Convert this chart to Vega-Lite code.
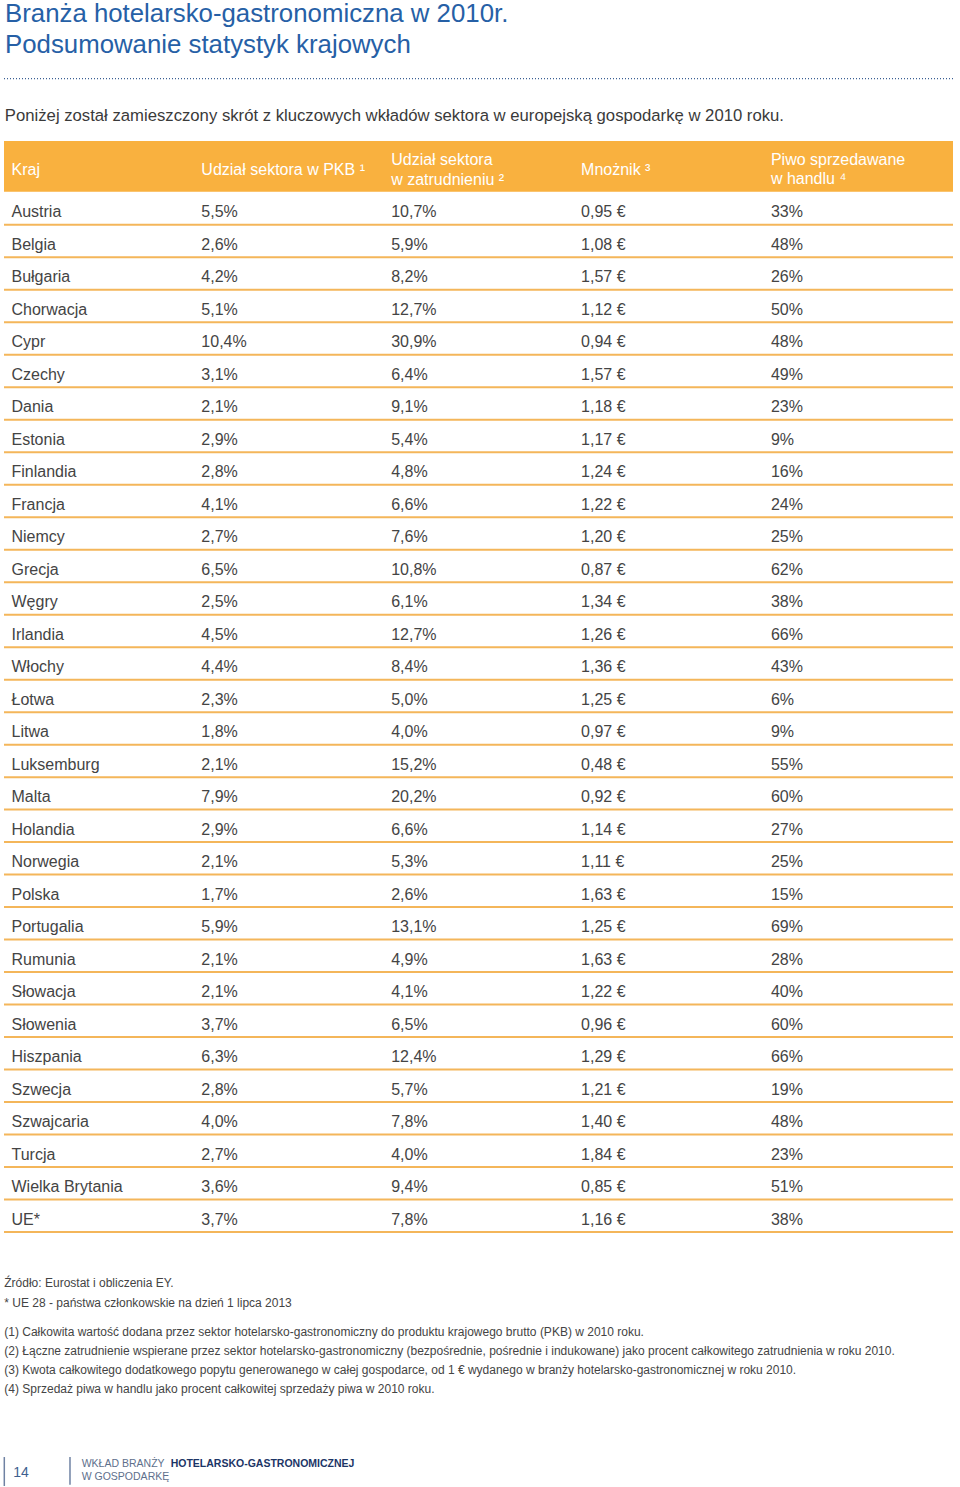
{
  "$schema": "https://vega.github.io/schema/vega-lite/v6.json",
  "width": 960,
  "height": 1487,
  "padding": 0,
  "autosize": {"type": "fit", "contains": "padding"},
  "background": "#ffffff",
  "config": {
    "view": {"stroke": null},
    "font": "Liberation Sans",
    "text": {"font": "Liberation Sans", "align": "left", "baseline": "alphabetic"},
    "locale": {"number": {"decimal": ",", "thousands": " ", "grouping": [3], "currency": ["", " €"]}}
  },
  "datasets": {
    "kraje": [
      {"kraj": "Austria", "pkb": 0.055, "zatr": 0.107, "mnoznik": 0.95, "piwo": 0.33},
      {"kraj": "Belgia", "pkb": 0.026, "zatr": 0.059, "mnoznik": 1.08, "piwo": 0.48},
      {"kraj": "Bułgaria", "pkb": 0.042, "zatr": 0.082, "mnoznik": 1.57, "piwo": 0.26},
      {"kraj": "Chorwacja", "pkb": 0.051, "zatr": 0.127, "mnoznik": 1.12, "piwo": 0.50},
      {"kraj": "Cypr", "pkb": 0.104, "zatr": 0.309, "mnoznik": 0.94, "piwo": 0.48},
      {"kraj": "Czechy", "pkb": 0.031, "zatr": 0.064, "mnoznik": 1.57, "piwo": 0.49},
      {"kraj": "Dania", "pkb": 0.021, "zatr": 0.091, "mnoznik": 1.18, "piwo": 0.23},
      {"kraj": "Estonia", "pkb": 0.029, "zatr": 0.054, "mnoznik": 1.17, "piwo": 0.09},
      {"kraj": "Finlandia", "pkb": 0.028, "zatr": 0.048, "mnoznik": 1.24, "piwo": 0.16},
      {"kraj": "Francja", "pkb": 0.041, "zatr": 0.066, "mnoznik": 1.22, "piwo": 0.24},
      {"kraj": "Niemcy", "pkb": 0.027, "zatr": 0.076, "mnoznik": 1.20, "piwo": 0.25},
      {"kraj": "Grecja", "pkb": 0.065, "zatr": 0.108, "mnoznik": 0.87, "piwo": 0.62},
      {"kraj": "Węgry", "pkb": 0.025, "zatr": 0.061, "mnoznik": 1.34, "piwo": 0.38},
      {"kraj": "Irlandia", "pkb": 0.045, "zatr": 0.127, "mnoznik": 1.26, "piwo": 0.66},
      {"kraj": "Włochy", "pkb": 0.044, "zatr": 0.084, "mnoznik": 1.36, "piwo": 0.43},
      {"kraj": "Łotwa", "pkb": 0.023, "zatr": 0.050, "mnoznik": 1.25, "piwo": 0.06},
      {"kraj": "Litwa", "pkb": 0.018, "zatr": 0.040, "mnoznik": 0.97, "piwo": 0.09},
      {"kraj": "Luksemburg", "pkb": 0.021, "zatr": 0.152, "mnoznik": 0.48, "piwo": 0.55},
      {"kraj": "Malta", "pkb": 0.079, "zatr": 0.202, "mnoznik": 0.92, "piwo": 0.60},
      {"kraj": "Holandia", "pkb": 0.029, "zatr": 0.066, "mnoznik": 1.14, "piwo": 0.27},
      {"kraj": "Norwegia", "pkb": 0.021, "zatr": 0.053, "mnoznik": 1.11, "piwo": 0.25},
      {"kraj": "Polska", "pkb": 0.017, "zatr": 0.026, "mnoznik": 1.63, "piwo": 0.15},
      {"kraj": "Portugalia", "pkb": 0.059, "zatr": 0.131, "mnoznik": 1.25, "piwo": 0.69},
      {"kraj": "Rumunia", "pkb": 0.021, "zatr": 0.049, "mnoznik": 1.63, "piwo": 0.28},
      {"kraj": "Słowacja", "pkb": 0.021, "zatr": 0.041, "mnoznik": 1.22, "piwo": 0.40},
      {"kraj": "Słowenia", "pkb": 0.037, "zatr": 0.065, "mnoznik": 0.96, "piwo": 0.60},
      {"kraj": "Hiszpania", "pkb": 0.063, "zatr": 0.124, "mnoznik": 1.29, "piwo": 0.66},
      {"kraj": "Szwecja", "pkb": 0.028, "zatr": 0.057, "mnoznik": 1.21, "piwo": 0.19},
      {"kraj": "Szwajcaria", "pkb": 0.040, "zatr": 0.078, "mnoznik": 1.40, "piwo": 0.48},
      {"kraj": "Turcja", "pkb": 0.027, "zatr": 0.040, "mnoznik": 1.84, "piwo": 0.23},
      {"kraj": "Wielka Brytania", "pkb": 0.036, "zatr": 0.094, "mnoznik": 0.85, "piwo": 0.51},
      {"kraj": "UE*", "pkb": 0.037, "zatr": 0.078, "mnoznik": 1.16, "piwo": 0.38}
    ]
  },
  "encoding": {
    "x": {"type": "quantitative", "scale": {"domain": [-0.06057, 4.99605], "nice": false, "zero": false}, "axis": null},
    "y": {"type": "quantitative", "scale": {"domain": [-5.6574, 40.068], "nice": false, "zero": false, "reverse": true}, "axis": null}
  },
  "layer": [
    {
      "data": {"values": [{}]},
      "layer": [
        {
          "mark": {"type": "text", "fontSize": 25.8, "color": "#2660A6", "lineHeight": 31.5,
                   "text": ["Branża hotelarsko-gastronomiczna w 2010r.", "Podsumowanie statystyk krajowych"]},
          "encoding": {"x": {"datum": -0.0342}, "y": {"datum": -5.025}}
        },
        {
          "mark": {"type": "rule", "color": "#3B5F93", "strokeWidth": 1.4, "strokeDash": [1, 2]},
          "encoding": {"x": {"datum": -0.0395}, "x2": {"datum": 4.9592}, "y": {"datum": -3.268}}
        },
        {
          "mark": {"type": "text", "fontSize": 16.7, "color": "#3A3A3A",
                   "text": "Poniżej został zamieszczony skrót z kluczowych wkładów sektora w europejską gospodarkę w 2010 roku."},
          "encoding": {"x": {"datum": -0.035}, "y": {"datum": -1.952}}
        },
        {
          "mark": {"type": "rect", "color": "#F9B13F"},
          "encoding": {"x": {"datum": -0.0395}, "x2": {"datum": 4.9592}, "y": {"datum": -1.3524}, "y2": {"datum": 0.2159}}
        },
        {
          "mark": {"type": "text", "fontSize": 16, "color": "#ffffff", "text": "Kraj"},
          "encoding": {"x": {"datum": 0}, "y": {"datum": -0.29}}
        },
        {
          "mark": {"type": "text", "fontSize": 16, "color": "#ffffff", "text": "Udział sektora w PKB ¹"},
          "encoding": {"x": {"datum": 1}, "y": {"datum": -0.29}}
        },
        {
          "mark": {"type": "text", "fontSize": 16, "color": "#ffffff", "lineHeight": 19.5, "text": ["Udział sektora", "w zatrudnieniu ²"]},
          "encoding": {"x": {"datum": 2}, "y": {"datum": -0.6}}
        },
        {
          "mark": {"type": "text", "fontSize": 16, "color": "#ffffff", "text": "Mnożnik ³"},
          "encoding": {"x": {"datum": 3}, "y": {"datum": -0.29}}
        },
        {
          "mark": {"type": "text", "fontSize": 16, "color": "#ffffff", "lineHeight": 19.5, "text": ["Piwo sprzedawane", "w handlu ⁴"]},
          "encoding": {"x": {"datum": 4}, "y": {"datum": -0.62}}
        },
        {
          "mark": {"type": "text", "fontSize": 12, "color": "#444444", "lineHeight": 19.5,
                   "text": ["Źródło: Eurostat i obliczenia EY.", "* UE 28 - państwa członkowskie na dzień 1 lipca 2013"]},
          "encoding": {"x": {"datum": -0.038}, "y": {"datum": 33.918}}
        },
        {
          "mark": {"type": "text", "fontSize": 12, "color": "#444444", "lineHeight": 19,
                   "text": [
                     "(1) Całkowita wartość dodana przez sektor hotelarsko-gastronomiczny do produktu krajowego brutto (PKB) w 2010 roku.",
                     "(2) Łączne zatrudnienie wspierane przez sektor hotelarsko-gastronomiczny (bezpośrednie, pośrednie i indukowane) jako procent całkowitego zatrudnienia w roku 2010.",
                     "(3) Kwota całkowitego dodatkowego popytu generowanego w całej gospodarce, od 1 € wydanego w branży hotelarsko-gastronomicznej w roku 2010.",
                     "(4) Sprzedaż piwa w handlu jako procent całkowitej sprzedaży piwa w 2010 roku."
                   ]},
          "encoding": {"x": {"datum": -0.038}, "y": {"datum": 35.41}}
        },
        {
          "mark": {"type": "rule", "color": "#6F82A3", "strokeWidth": 1.5},
          "encoding": {"x": {"datum": -0.0379}, "y": {"datum": 39.146}, "y2": {"datum": 40.037}}
        },
        {
          "mark": {"type": "rule", "color": "#6F82A3", "strokeWidth": 1.5},
          "encoding": {"x": {"datum": 0.3081}, "y": {"datum": 39.146}, "y2": {"datum": 40.0}}
        },
        {
          "mark": {"type": "text", "fontSize": 14, "color": "#3E5F8F", "text": "14"},
          "encoding": {"x": {"datum": 0.0095}, "y": {"datum": 39.752}}
        },
        {
          "mark": {"type": "text", "fontSize": 10.5, "color": "#5E6F8C", "lineHeight": 12.8, "text": ["WKŁAD BRANŻY", "W GOSPODARKĘ"]},
          "encoding": {"x": {"datum": 0.3698}, "y": {"datum": 39.462}}
        },
        {
          "mark": {"type": "text", "fontSize": 10.5, "fontWeight": "bold", "color": "#1C3566", "text": "HOTELARSKO-GASTRONOMICZNEJ"},
          "encoding": {"x": {"datum": 0.8386}, "y": {"datum": 39.462}}
        }
      ]
    },
    {
      "data": {"name": "kraje"},
      "transform": [{"window": [{"op": "row_number", "as": "r"}]}],
      "layer": [
        {
          "mark": {"type": "rule", "color": "#F4B65A", "strokeWidth": 2, "yOffset": 7.3, "y2Offset": 7.3},
          "encoding": {"x": {"datum": -0.0395}, "x2": {"datum": 4.9592}, "y": {"field": "r"}}
        },
        {
          "mark": {"type": "text", "fontSize": 16, "color": "#444444"},
          "encoding": {"x": {"datum": 0}, "y": {"field": "r"}, "text": {"field": "kraj", "type": "nominal"}}
        },
        {
          "mark": {"type": "text", "fontSize": 16, "color": "#444444"},
          "encoding": {"x": {"datum": 1}, "y": {"field": "r"}, "text": {"field": "pkb", "type": "quantitative", "format": ".1%"}}
        },
        {
          "mark": {"type": "text", "fontSize": 16, "color": "#444444"},
          "encoding": {"x": {"datum": 2}, "y": {"field": "r"}, "text": {"field": "zatr", "type": "quantitative", "format": ".1%"}}
        },
        {
          "mark": {"type": "text", "fontSize": 16, "color": "#444444"},
          "encoding": {"x": {"datum": 3}, "y": {"field": "r"}, "text": {"field": "mnoznik", "type": "quantitative", "format": "$.2f"}}
        },
        {
          "mark": {"type": "text", "fontSize": 16, "color": "#444444"},
          "encoding": {"x": {"datum": 4}, "y": {"field": "r"}, "text": {"field": "piwo", "type": "quantitative", "format": ".0%"}}
        }
      ]
    }
  ]
}
